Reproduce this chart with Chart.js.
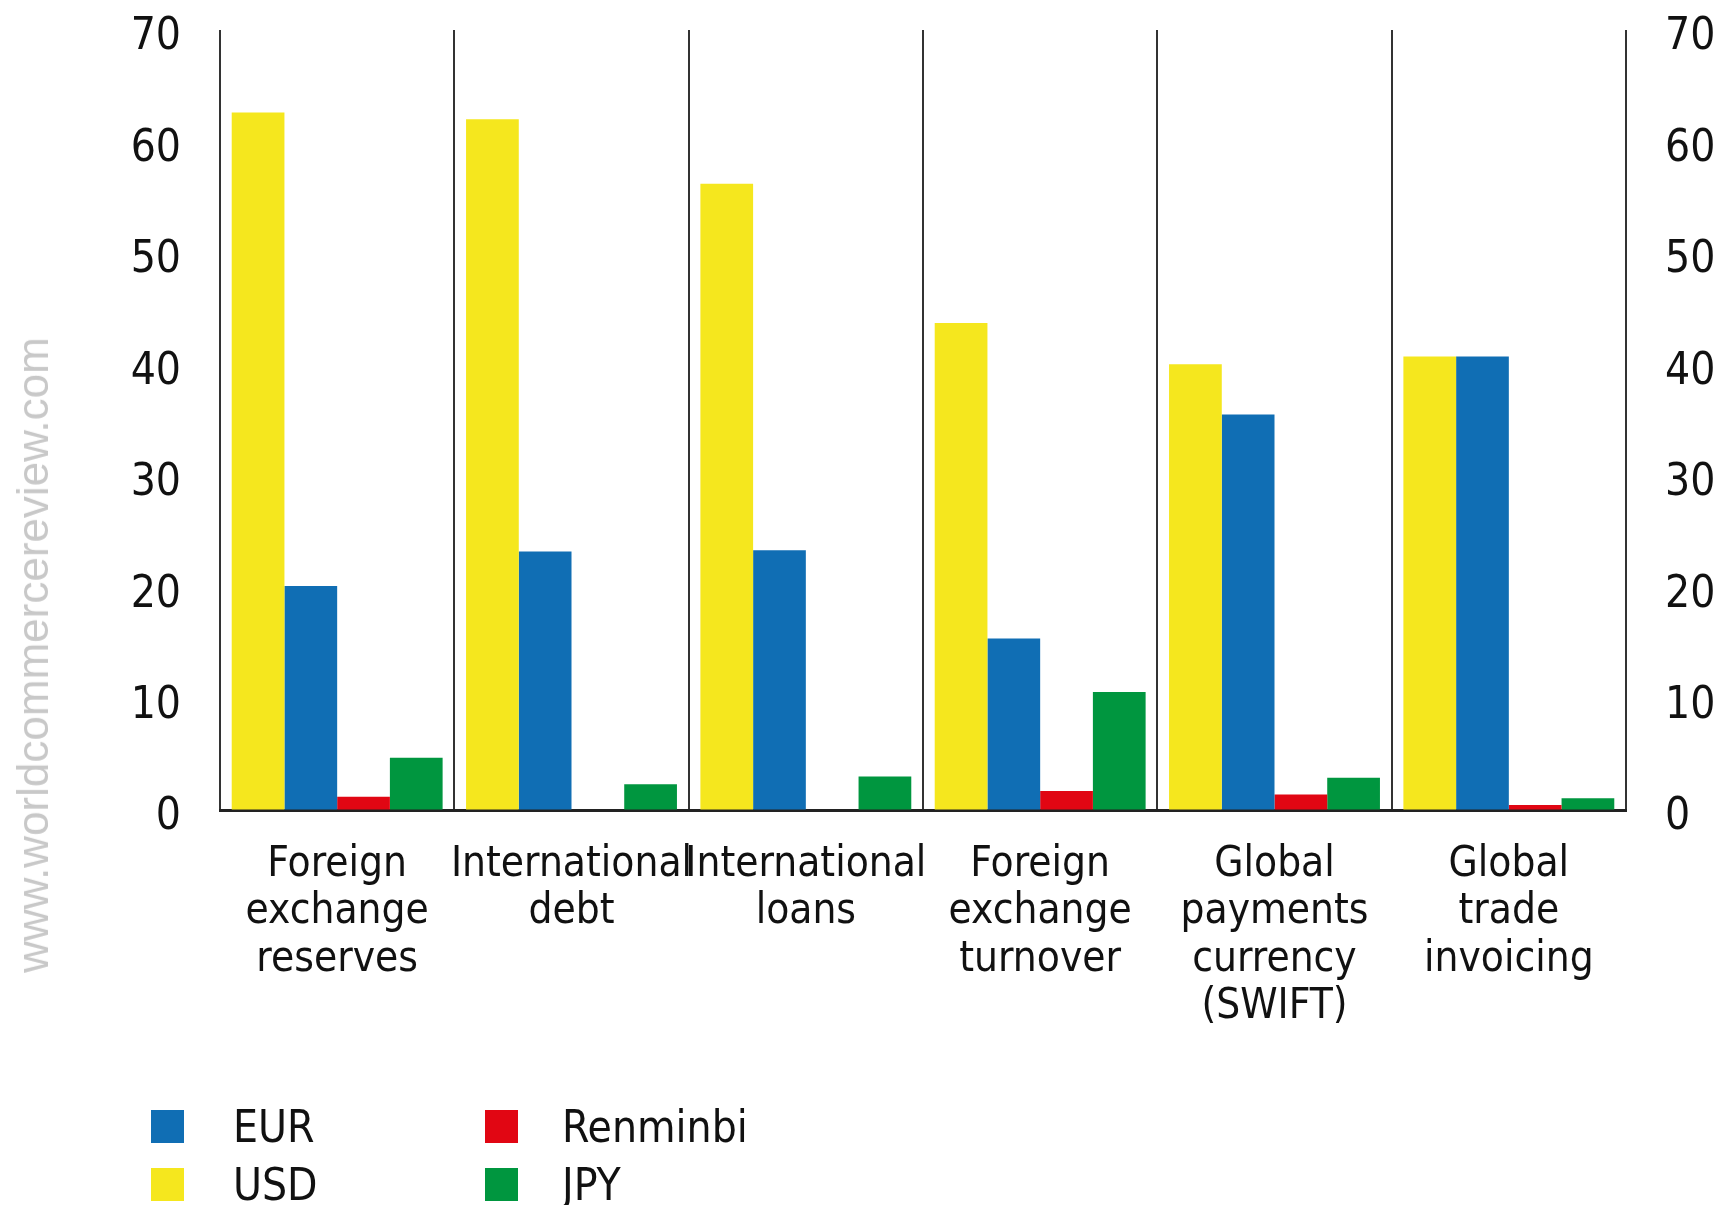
<!DOCTYPE html>
<html>
<head>
<meta charset="utf-8">
<script src="https://cdn.jsdelivr.net/npm/chart.js@4.4.1/dist/chart.umd.min.js"></script>
<style>
    html, body {
        margin: 0;
        padding: 0;
        background: #ffffff;
    }
    #wrap {
        position: relative;
        width: 1720px;
        height: 1205px;
    }
    #currency-chart {
        position: absolute;
        left: 0;
        top: 0;
    }
    .watermark {
        position: absolute;
        left: 33px;
        top: 655px;
        transform: translate(-50%, -50%) rotate(-90deg);
        font-family: 'Liberation Sans', sans-serif;
        font-size: 44px;
        color: #c8c8c8;
        white-space: nowrap;
    }
    .legend-item {
        position: absolute;
        height: 34px;
        font-family: 'DejaVu Sans Condensed', sans-serif;
        font-size: 44px;
        color: #111;
    }
    .legend-box {
        position: absolute;
        left: 0;
        top: 0;
        width: 33px;
        height: 33px;
    }
    .legend-label {
        position: absolute;
        top: 50%;
        transform: translateY(-50%);
        white-space: nowrap;
        line-height: 1;
    }
</style>
</head>
<body>
<div id="wrap">
    <canvas id="currency-chart" width="1720" height="1205"></canvas>
    <div class="watermark">www.worldcommercereview.com</div>
    <div id="legend"></div>
</div>
<script>
const categories = [
    ['Foreign', 'exchange', 'reserves'],
    ['International', 'debt'],
    ['International', 'loans'],
    ['Foreign', 'exchange', 'turnover'],
    ['Global', 'payments', 'currency', '(SWIFT)'],
    ['Global', 'trade', 'invoicing']
];

// shares in percent
const usdValues = [62.6, 62.0, 56.2, 43.7, 40.0, 40.7];
const eurValues = [20.1, 23.2, 23.3, 15.4, 35.5, 40.7];
const renminbiValues = [1.2, 0, 0, 1.7, 1.4, 0.45];
const jpyValues = [4.7, 2.3, 3.0, 10.6, 2.9, 1.05];

const yTicks = [0, 10, 20, 30, 40, 50, 60, 70];

const seriesColors = {
    USD: '#f5e71e',
    EUR: '#106eb4',
    Renminbi: '#e10613',
    JPY: '#00963f'
};

// legend is laid out in two columns: EUR/USD, then Renminbi/JPY
const legendOrder = ['EUR', 'USD', 'Renminbi', 'JPY'];

const fontFamily = "'DejaVu Sans Condensed', sans-serif";

function yAxis(position, width) {
    return {
        type: 'linear',
        position: position,
        min: 0,
        max: 70,
        afterBuildTicks: (scale) => {
            scale.ticks = yTicks.map(v => ({value: v}));
        },
        afterFit: (scale) => {
            scale.width = width;
        },
        // invisible tick marks give the gap between axis and labels
        // (ticks.padding would also push the chart area down)
        grid: {
            display: true,
            drawOnChartArea: false,
            drawTicks: true,
            tickLength: 39,
            tickColor: 'rgba(0,0,0,0)'
        },
        border: {display: false},
        ticks: {
            color: '#111',
            padding: 0,
            labelOffset: 8,
            font: {family: fontFamily, size: 44}
        }
    };
}

function buildLegend() {
    const legend = document.getElementById('legend');
    legendOrder.forEach((name, idx) => {
        const col = Math.floor(idx / 2);
        const row = idx % 2;

        const item = document.createElement('div');
        item.className = 'legend-item';
        item.style.left = (151 + col * 334) + 'px';
        item.style.top = (1110 + row * 58) + 'px';

        const box = document.createElement('div');
        box.className = 'legend-box';
        box.style.background = seriesColors[name];

        const label = document.createElement('div');
        label.className = 'legend-label';
        label.style.left = (col === 0 ? 82 : 77) + 'px';
        label.textContent = name;

        item.appendChild(box);
        item.appendChild(label);
        legend.appendChild(item);
    });
}

const config = {
    type: 'bar',
    data: {
        labels: categories,
        datasets: [
            {label: 'USD', data: usdValues, backgroundColor: seriesColors.USD, yAxisID: 'y'},
            {label: 'EUR', data: eurValues, backgroundColor: seriesColors.EUR, yAxisID: 'y'},
            {label: 'Renminbi', data: renminbiValues, backgroundColor: seriesColors.Renminbi, yAxisID: 'y'},
            {label: 'JPY', data: jpyValues, backgroundColor: seriesColors.JPY, yAxisID: 'y'}
        ]
    },
    options: {
        responsive: false,
        animation: false,
        layout: {
            padding: {top: 30, left: 0, right: 0, bottom: 0}
        },
        datasets: {
            bar: {
                categoryPercentage: 0.9,
                barPercentage: 1.0,
                borderWidth: 0
            }
        },
        plugins: {
            legend: {display: false},
            tooltip: {enabled: false}
        },
        scales: {
            x: {
                offset: true,
                afterFit: (scale) => {
                    scale.height = 1205 - 810;
                },
                grid: {
                    offset: true,
                    color: '#333',
                    lineWidth: 2,
                    drawTicks: false
                },
                border: {
                    display: true,
                    color: '#222',
                    width: 3
                },
                ticks: {
                    autoSkip: false,
                    maxRotation: 0,
                    minRotation: 0,
                    color: '#111',
                    padding: 32,
                    font: {family: fontFamily, size: 42, lineHeight: 1.12}
                }
            },
            y: yAxis('left', 220),
            y2: yAxis('right', 94)
        }
    }
};

buildLegend();
new Chart(document.getElementById('currency-chart'), config);
</script>
</body>
</html>
